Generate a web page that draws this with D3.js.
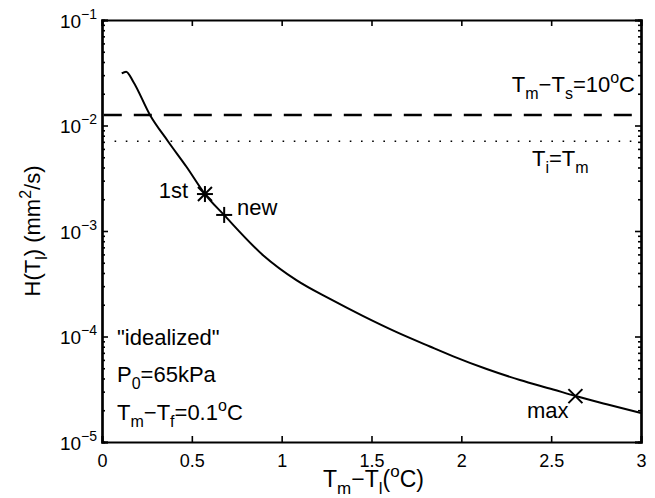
<!DOCTYPE html>
<html>
<head>
<meta charset="utf-8">
<script src="https://cdn.jsdelivr.net/npm/d3@7"></script>
<style>
body { margin: 0; background: #fff; }
text { font-family: "Liberation Sans", Arial, Helvetica, sans-serif; fill: #000; }
</style>
</head>
<body>
<div id="canvas"></div>
<script>
// curve
var curveX = [0.110, 0.134, 0.174, 0.267, 0.369, 0.471, 0.573, 0.679, 0.898, 1.084, 1.269, 1.454, 1.640, 1.825, 1.955, 2.141, 2.326, 2.511, 2.632, 2.809, 3.0];
var curveY = [0.0312, 0.0324, 0.0260, 0.0126, 0.00702, 0.00404, 0.00224, 0.00142, 5.86e-4, 3.40e-4, 2.27e-4, 1.56e-4, 1.10e-4, 8.04e-5, 6.49e-5, 4.92e-5, 3.87e-5, 3.15e-5, 2.74e-5, 2.28e-5, 1.88e-5];

var markX = [0.573, 0.680, 2.635];
var markY = [0.00224, 0.00142, 2.72e-5];
var markNames = ["1st", "new", "max"];

var dashLevel = 0.0126;   // Tm-Ts=10C
var dotLevel = 0.0071;    // Ti=Tm

var xTicks = [0, 0.5, 1, 1.5, 2, 2.5, 3];
var yTicks = [1e-5, 1e-4, 1e-3, 1e-2, 1e-1];
var yTickExp = ["\u22125", "\u22124", "\u22123", "\u22122", "\u22121"];

var W = 655, H = 498;
var m = {left: 102, right: 14, top: 20, bottom: 56};
var iw = W - m.left - m.right, ih = H - m.top - m.bottom;

var svg = d3.select("#canvas").append("svg").attr("width", W).attr("height", H);
var g = svg.append("g").attr("transform", "translate(" + m.left + "," + m.top + ")");

var x = d3.scaleLinear().domain([0, 3]).range([0, iw]);
var y = d3.scaleLog().domain([1e-5, 1e-1]).range([ih, 0]);

// reference levels
g.append("line")
    .attr("x1", x(0.01)).attr("x2", iw).attr("y1", y(dashLevel)).attr("y2", y(dashLevel))
    .attr("stroke", "#000").attr("stroke-width", 2.5).attr("stroke-dasharray", "18,12");
g.append("line")
    .attr("x1", x(0.07)).attr("x2", iw).attr("y1", y(dotLevel)).attr("y2", y(dotLevel))
    .attr("stroke", "#000").attr("stroke-width", 1.6).attr("stroke-dasharray", "1.6,9.6");

// main curve
var line = d3.line()
    .x(function(d, i){ return x(curveX[i]); })
    .y(function(d, i){ return y(curveY[i]); })
    .curve(d3.curveMonotoneX);
g.append("path").datum(curveX)
    .attr("d", line).attr("fill", "none").attr("stroke", "#000").attr("stroke-width", 2);

// markers: asterisk, plus, cross
function drawMark(kind, cx, cy){
    var s = 7, p = [];
    if (kind === "*" || kind === "+") p.push([-8, 0, 8, 0], [0, -8, 0, 8]);
    if (kind === "*" || kind === "x") p.push([-s, -s, s, s], [-s, s, s, -s]);
    p.forEach(function(l){
        g.append("line").attr("x1", cx + l[0]).attr("y1", cy + l[1])
            .attr("x2", cx + l[2]).attr("y2", cy + l[3])
            .attr("stroke", "#000").attr("stroke-width", 2);
    });
}
var kinds = ["*", "+", "x"];
markX.forEach(function(v, i){ drawMark(kinds[i], x(v), y(markY[i])); });

// axes, ticks inward
var xAxis = g.append("g").attr("transform", "translate(0," + ih + ")")
    .call(d3.axisBottom(x).tickValues(xTicks).tickSize(-6).tickPadding(12).tickFormat(d3.format("")));
g.append("g").call(d3.axisTop(x).tickValues(xTicks).tickSize(-6).tickFormat(""));

var yAxis = g.append("g")
    .call(d3.axisLeft(y).tickValues(yTicks).tickSize(-6).tickPadding(5).tickFormat(""));
g.append("g").attr("transform", "translate(" + iw + ",0)")
    .call(d3.axisRight(y).tickValues(yTicks).tickSize(-6).tickFormat(""));

var minor = [];
for (var k = -5; k < -1; k++) for (var j = 2; j <= 9; j++) minor.push(j * Math.pow(10, k));
g.append("g").call(d3.axisLeft(y).tickValues(minor).tickSize(-3).tickFormat(""));
g.append("g").attr("transform", "translate(" + iw + ",0)")
    .call(d3.axisRight(y).tickValues(minor).tickSize(-3).tickFormat(""));

g.selectAll(".domain").attr("stroke", "#000").attr("stroke-width", 2.2);
g.selectAll(".tick line").attr("stroke", "#000").attr("stroke-width", 1.6);
xAxis.selectAll("text").attr("font-size", 18).attr("font-family", null);

yAxis.selectAll(".tick text").each(function(d, i){
    var t = d3.select(this).attr("font-size", 19).attr("font-family", null).attr("dy", "0.38em").attr("x", -5);
    t.append("tspan").text("10");
    t.append("tspan").attr("font-size", 14).attr("dy", -9).text(yTickExp[i]);
});

// rich text helper: parts are [string, "n" | "sub" | "sup"]
function rich(parent, px, py, parts, size, anchor, rot){
    var t = parent.append("text").attr("x", px).attr("y", py)
        .attr("font-size", size).attr("text-anchor", anchor || "start");
    if (rot) t.attr("transform", "rotate(" + rot + "," + px + "," + py + ")");
    var shift = 0, small = Math.round(size * 0.74);
    parts.forEach(function(p){
        var want = p[1] === "sub" ? size * 0.3 : p[1] === "sup" ? -size * 0.42 : 0;
        t.append("tspan").attr("dy", want - shift)
            .attr("font-size", p[1] === "n" ? size : small).text(p[0]);
        shift = want;
    });
    return t;
}

var F = 22;
rich(svg, 635, 92, [["T", "n"], ["m", "sub"], ["\u2212T", "n"], ["s", "sub"], ["=10", "n"], ["o", "sup"], ["C", "n"]], F, "end");
rich(svg, 532, 166, [["T", "n"], ["i", "sub"], ["=T", "n"], ["m", "sub"]], F);

rich(svg, 188, 198, [[markNames[0], "n"]], F, "end");
rich(svg, 237, 215, [[markNames[1], "n"]], F);
rich(svg, 527, 418, [[markNames[2], "n"]], F);

rich(svg, 117, 345, [["\"idealized\"", "n"]], F);
rich(svg, 117, 382, [["P", "n"], ["0", "sub"], ["=65kPa", "n"]], F);
rich(svg, 117, 420, [["T", "n"], ["m", "sub"], ["\u2212T", "n"], ["f", "sub"], ["=0.1", "n"], ["o", "sup"], ["C", "n"]], F);

rich(svg, m.left + iw / 2 + 2, 487, [["T", "n"], ["m", "sub"], ["\u2212T", "n"], ["l", "sub"], ["(", "n"], ["o", "sup"], ["C)", "n"]], 23, "middle");
rich(svg, 40, m.top + ih / 2, [["H(T", "n"], ["l", "sub"], [") (mm", "n"], ["2", "sup"], ["/s)", "n"]], F, "middle", -90);
</script>
</body>
</html>
